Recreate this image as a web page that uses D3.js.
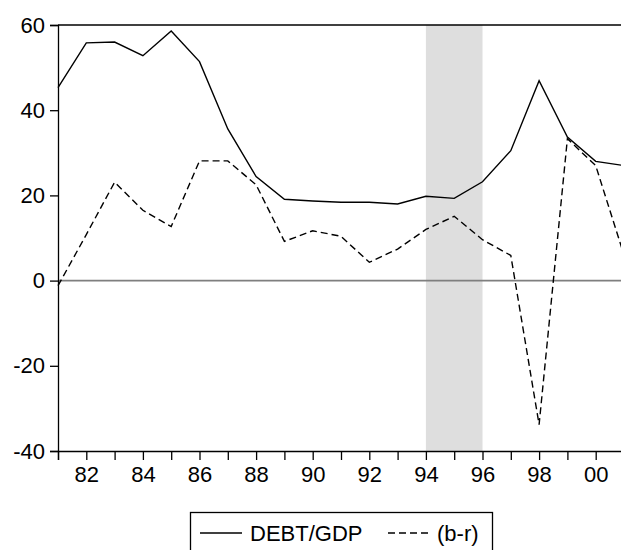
<!DOCTYPE html>
<html>
<head>
<meta charset="utf-8">
<script src="https://cdn.jsdelivr.net/npm/d3@7"></script>
<style>
  body { margin: 0; background: #fff; }
  text { font-family: Arial, "Liberation Sans", sans-serif; fill: #000; }
</style>
</head>
<body>
<div id="chart"></div>
<script>
// Data
const years = [1981, 1982, 1983, 1984, 1985, 1986, 1987, 1988, 1989, 1990, 1991,
               1992, 1993, 1994, 1995, 1996, 1997, 1998, 1999, 2000, 2001];
const debtGdp = [45.3, 55.8, 56.0, 52.8, 58.6, 51.4, 35.6, 24.4, 19.1, 18.7, 18.4,
                 18.4, 18.0, 19.8, 19.3, 23.2, 30.5, 46.9, 33.7, 28.0, 27.0];
const bMinusR = [-1.2, 10.8, 23.1, 16.5, 12.7, 28.1, 28.1, 22.5, 9.2, 11.7, 10.4,
                 4.3, 7.4, 12.0, 15.1, 9.6, 5.9, -33.8, 33.3, 27.0, 6.0];
const shadeSpan = [1994, 1996];
const yTicks = [-40, -20, 0, 20, 40, 60];
const xLabelYears = [1982, 1984, 1986, 1988, 1990, 1992, 1994, 1996, 1998, 2000];
const seriesNames = ["DEBT/GDP", "(b-r)"];

const W = 621, H = 550;
const margin = { top: 25, left: 58, bottom: 99 };
const fontSize = "22px";
const dash = "7,4";

const svg = d3.select("#chart").append("svg")
    .attr("width", W)
    .attr("height", H);

const x = d3.scaleLinear().domain([1981, 2001]).range([margin.left, 624]);
const y = d3.scaleLinear().domain([-40, 60]).range([H - margin.bottom, margin.top]);

// shaded period
svg.append("rect")
    .attr("x", x(shadeSpan[0]))
    .attr("y", y(60))
    .attr("width", x(shadeSpan[1]) - x(shadeSpan[0]))
    .attr("height", y(-40) - y(60))
    .attr("fill", "#dedede");

// zero line
svg.append("line")
    .attr("x1", x(1981)).attr("x2", x(2001))
    .attr("y1", y(0)).attr("y2", y(0))
    .attr("stroke", "#7f7f7f")
    .attr("stroke-width", 1.6);

// top frame line
svg.append("line")
    .attr("x1", x(1981)).attr("x2", x(2001))
    .attr("y1", y(60)).attr("y2", y(60))
    .attr("stroke", "#000")
    .attr("stroke-width", 1.3);

// axes (plain hyphen for negatives, like the original)
const yAxis = svg.append("g")
    .attr("transform", `translate(${margin.left},0)`)
    .call(d3.axisLeft(y).tickValues(yTicks).tickSize(8).tickPadding(5).tickFormat(d => String(d)));

const xAxis = svg.append("g")
    .attr("transform", `translate(0,${y(-40)})`)
    .call(d3.axisBottom(x).tickValues(years).tickSize(9).tickPadding(6)
        .tickFormat(d => xLabelYears.includes(d) ? String(d).slice(2) : ""));

[yAxis, xAxis].forEach(g => {
    g.select(".domain").attr("stroke", "#000").attr("stroke-width", 1.3);
    g.selectAll(".tick line").attr("stroke", "#000").attr("stroke-width", 1.3);
    g.selectAll(".tick text")
        .style("font-size", fontSize)
        .style("font-family", "Arial, 'Liberation Sans', sans-serif")
        .attr("fill", "#000");
});

// series
const line = d3.line().x((d, i) => x(years[i])).y(d => y(d));

svg.append("path")
    .datum(debtGdp)
    .attr("d", line)
    .attr("fill", "none")
    .attr("stroke", "#000")
    .attr("stroke-width", 1.4);

svg.append("path")
    .datum(bMinusR)
    .attr("d", line)
    .attr("fill", "none")
    .attr("stroke", "#000")
    .attr("stroke-width", 1.4)
    .attr("stroke-dasharray", dash);

// legend
const lg = svg.append("g");
lg.append("rect")
    .attr("x", 190.5).attr("y", 512.5)
    .attr("width", 302).attr("height", 50)
    .attr("fill", "#fff")
    .attr("stroke", "#000")
    .attr("stroke-width", 1.3);

lg.append("line")
    .attr("x1", 200).attr("x2", 242).attr("y1", 533).attr("y2", 533)
    .attr("stroke", "#000").attr("stroke-width", 1.4);
lg.append("text")
    .attr("x", 250).attr("y", 541)
    .style("font-size", fontSize)
    .text(seriesNames[0]);

lg.append("line")
    .attr("x1", 388).attr("x2", 430).attr("y1", 533).attr("y2", 533)
    .attr("stroke", "#000").attr("stroke-width", 1.4)
    .attr("stroke-dasharray", dash);
lg.append("text")
    .attr("x", 437).attr("y", 541)
    .style("font-size", fontSize)
    .text(seriesNames[1]);
</script>
</body>
</html>
